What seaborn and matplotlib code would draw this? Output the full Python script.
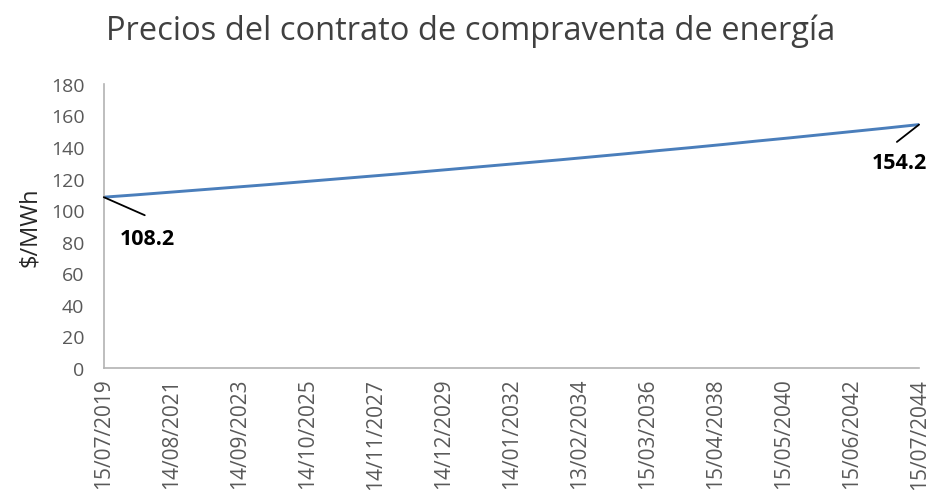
import matplotlib
matplotlib.use("Agg")
import matplotlib.pyplot as plt
import matplotlib.dates as mdates
import pandas as pd
import seaborn as sns

# Contract price per year (each 15 July), $/MWh
years = list(range(2019, 2045))
prices = [108.2, 109.7, 111.3, 112.9, 114.5, 116.1, 117.8, 119.5, 121.2, 122.9,
          124.7, 126.5, 128.3, 130.1, 131.9, 133.8, 135.7, 137.7, 139.6, 141.6,
          143.7, 145.7, 147.8, 149.9, 152.0, 154.2]

tick_labels = ["15/07/2019", "14/08/2021", "14/09/2023", "14/10/2025",
               "14/11/2027", "14/12/2029", "14/01/2032", "13/02/2034",
               "15/03/2036", "15/04/2038", "15/05/2040", "15/06/2042",
               "15/07/2044"]
y_ticks = [0, 20, 40, 60, 80, 100, 120, 140, 160, 180]

title = "Precios del contrato de compraventa de energía"
y_label = "$/MWh"

df = pd.DataFrame({
    "fecha": pd.to_datetime([f"{y}-07-15" for y in years]),
    "precio": prices,
})

sns.set_style("white")
plt.rcParams["font.family"] = ["Open Sans", "DejaVu Sans"]

fig = plt.figure(figsize=(9.35, 5.02), dpi=100)
ax = fig.add_axes([0.111, 0.265, 0.872, 0.566])

sns.lineplot(data=df, x="fecha", y="precio", ax=ax, color="#4a7ebb",
             linewidth=2.1)

tick_dates = pd.to_datetime(tick_labels, dayfirst=True)
ax.set_xlim(tick_dates[0], tick_dates[-1])
ax.set_xticks(tick_dates)
ax.set_xticklabels(tick_labels, rotation=90)
ax.set_ylim(0, 180)
ax.set_yticks(y_ticks)

ax.tick_params(axis="both", length=0, labelcolor="#595959")
ax.tick_params(axis="x", labelsize=15, pad=7)
ax.tick_params(axis="y", labelsize=14, pad=14)

for side in ("top", "right"):
    ax.spines[side].set_visible(False)
for side in ("left", "bottom"):
    ax.spines[side].set_color("#b3b3b3")
    ax.spines[side].set_linewidth(1.2)

ax.set_xlabel("")
ax.set_ylabel(y_label, fontsize=17, color="#262626", labelpad=6)

fig.suptitle(title, x=0.503, y=0.972, fontsize=23.5, color="#404040")

# Data labels with leader lines at the first and last points
first_x, first_y = mdates.date2num(df["fecha"].iloc[0]), prices[0]
last_x, last_y = mdates.date2num(df["fecha"].iloc[-1]), prices[-1]

ax.annotate("", xy=(first_x, first_y), xytext=(29.5, -13),
            textcoords="offset points",
            arrowprops=dict(arrowstyle="-", color="black", lw=1.3,
                            shrinkA=0, shrinkB=0), annotation_clip=False)
ax.annotate(f"{prices[0]:.1f}", xy=(first_x, first_y), xytext=(31.5, -30),
            textcoords="offset points", ha="center", va="center",
            fontsize=15.5, fontweight="bold", color="black",
            annotation_clip=False)

ax.annotate("", xy=(last_x, last_y), xytext=(-16, -12.5),
            textcoords="offset points",
            arrowprops=dict(arrowstyle="-", color="black", lw=1.3,
                            shrinkA=0, shrinkB=0), annotation_clip=False)
ax.annotate(f"{prices[-1]:.1f}", xy=(last_x, last_y), xytext=(-14, -27.5),
            textcoords="offset points", ha="center", va="center",
            fontsize=15.5, fontweight="bold", color="black",
            annotation_clip=False)

fig.savefig("out.png", dpi=100)
